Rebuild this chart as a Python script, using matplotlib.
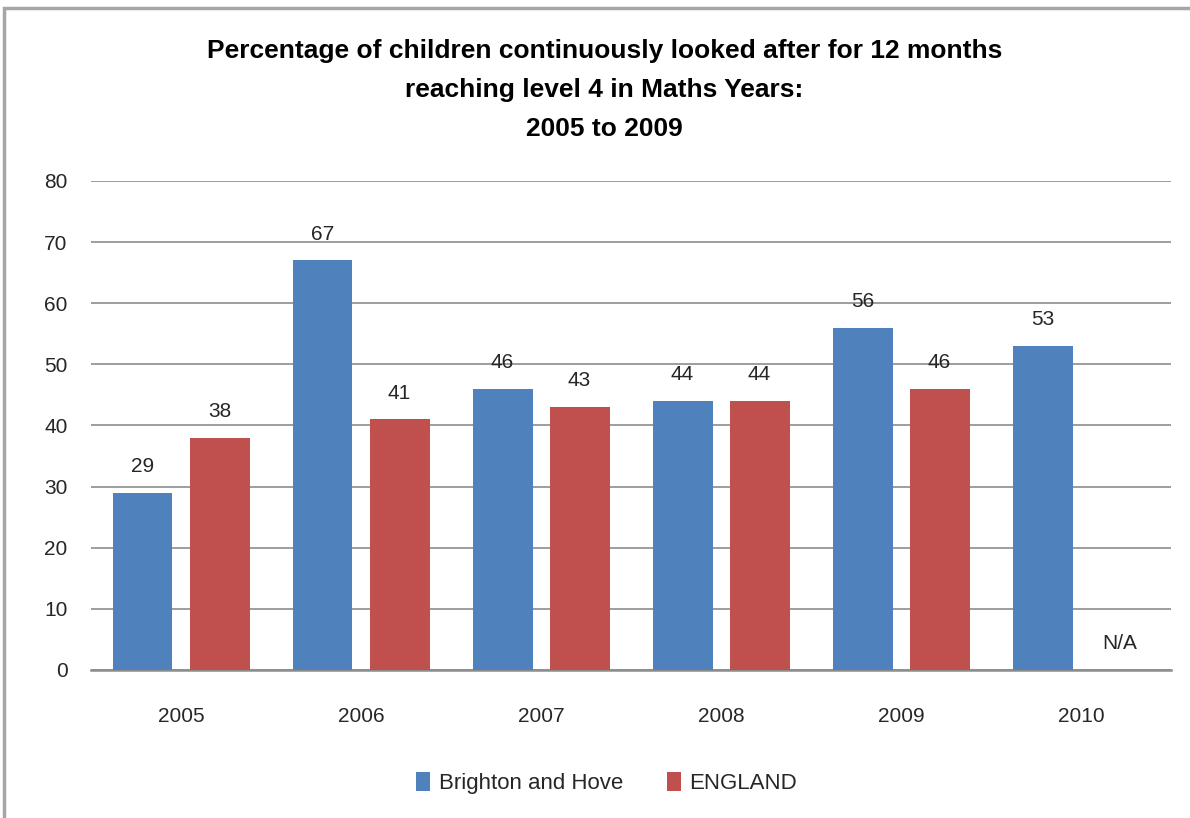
import matplotlib.pyplot as plt
import numpy as np
from matplotlib.patches import Rectangle

years = ['2005', '2006', '2007', '2008', '2009', '2010']
brighton = [29, 67, 46, 44, 56, 53]
england = [38, 41, 43, 44, 46, None]
series_names = ['Brighton and Hove', 'ENGLAND']
title = ('Percentage of children continuously looked after for 12 months\n'
         'reaching level 4 in Maths Years:\n2005 to 2009')

blue = '#4F81BD'
red = '#C0504D'
grid_col = '#8C8C8C'
text_col = '#262626'

plt.rcParams['font.family'] = ['Liberation Sans', 'DejaVu Sans']

fig = plt.figure(figsize=(11.9, 8.18), dpi=100)
ax = fig.add_axes([0.0765, 0.181, 0.9076, 0.5978])

x = np.arange(len(years))
w = 0.333
off = 0.214

b_vals = np.array(brighton, dtype=float)
e_vals = np.array([np.nan if v is None else v for v in england], dtype=float)

bars_b = ax.bar(x - off, b_vals, w, color=blue, zorder=3, label=series_names[0])
bars_e = ax.bar(x + off, np.nan_to_num(e_vals), w, color=red, zorder=3, label=series_names[1])

lbl_size = 15
for xi, v in zip(x, b_vals):
    ax.annotate(f'{int(v)}', (xi - off, v), xytext=(0, 12), textcoords='offset points',
                ha='center', va='bottom', fontsize=lbl_size, color=text_col)
for xi, v in zip(x, e_vals):
    if np.isnan(v):
        ax.annotate('N/A', (xi + off, 0), xytext=(0, 12), textcoords='offset points',
                    ha='center', va='bottom', fontsize=lbl_size, color=text_col)
    else:
        ax.annotate(f'{int(v)}', (xi + off, v), xytext=(0, 12), textcoords='offset points',
                    ha='center', va='bottom', fontsize=lbl_size, color=text_col)

ax.set_xlim(-0.5, len(years) - 0.5)
ax.set_ylim(0, 80)
ax.set_yticks(range(0, 81, 10))
ax.set_xticks(x)
ax.set_xticklabels(years)
ax.yaxis.grid(True, color=grid_col, linewidth=1.2, zorder=0)
ax.set_axisbelow(True)
for s in ['top', 'right', 'left']:
    ax.spines[s].set_visible(False)
ax.spines['bottom'].set_color(grid_col)
ax.spines['bottom'].set_linewidth(1.8)
ax.tick_params(axis='y', length=0, pad=17, labelsize=15, labelcolor=text_col)
ax.tick_params(axis='x', length=0, pad=27, labelsize=15, labelcolor=text_col)

fig.text(0.508, 1 - 90 / 818, title, ha='center', va='center', fontsize=19,
         fontweight='bold', linespacing=1.8, color='black')

fig.legend(handles=[bars_b, bars_e], labels=series_names, loc='center',
           bbox_to_anchor=(0.51, 0.043), ncol=2, frameon=False, fontsize=16,
           handlelength=0.6, handleheight=1.0, handletextpad=0.4, columnspacing=2.0,
           labelcolor=text_col)

# outer chart border
fig.patches.append(Rectangle((0.0035, -0.05), 1.2, 1.04, transform=fig.transFigure,
                             fill=False, edgecolor='#A6A6A6', linewidth=2.5))

fig.savefig('out.png', dpi=100)
